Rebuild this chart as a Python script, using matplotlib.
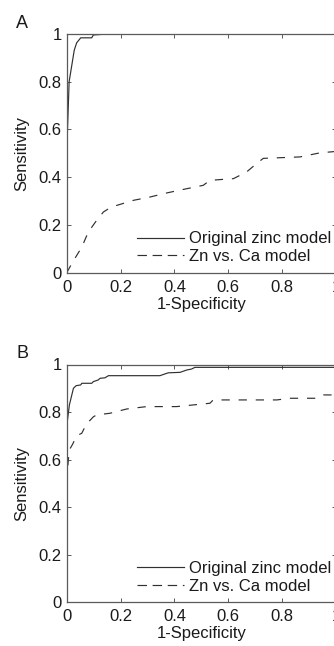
import matplotlib
matplotlib.use("Agg")
import matplotlib.pyplot as plt

plt.rcParams['font.family'] = ['Liberation Sans', 'DejaVu Sans']

# ---- data ----
ticks = [0, 0.2, 0.4, 0.6, 0.8, 1]
tick_labels = ['0', '0.2', '0.4', '0.6', '0.8', '1']

a_orig_x = [0, 0, 0.003, 0.009, 0.028, 0.037, 0.052, 0.093, 0.099, 0.153, 1.0]
a_orig_y = [0, 0.45, 0.60, 0.80, 0.932, 0.963, 0.984, 0.984, 0.996, 1.0, 1.0]

a_znca_x = [0, 0.025, 0.056, 0.08, 0.111, 0.136, 0.161, 0.186, 0.247, 0.309, 0.371,
            0.446, 0.507, 0.532, 0.619, 0.668, 0.706, 0.73, 0.866, 0.94, 1.0]
a_znca_y = [0, 0.05, 0.107, 0.17, 0.219, 0.254, 0.272, 0.282, 0.303, 0.317, 0.334,
            0.352, 0.366, 0.387, 0.394, 0.422, 0.458, 0.479, 0.485, 0.502, 0.508]

b_orig_x = [0, 0, 0.002, 0.01, 0.019, 0.025, 0.035, 0.052, 0.056, 0.093, 0.099, 0.117,
            0.124, 0.142, 0.155, 0.346, 0.377, 0.421, 0.446, 0.464, 0.476, 1.0]
b_orig_y = [0, 0.65, 0.759, 0.83, 0.872, 0.90, 0.911, 0.914, 0.921, 0.921, 0.928, 0.935,
            0.942, 0.944, 0.953, 0.953, 0.965, 0.967, 0.977, 0.981, 0.988, 0.988]

b_znca_x = [0, 0, 0.003, 0.006, 0.012, 0.022, 0.037, 0.056, 0.068, 0.084, 0.099, 0.111,
            0.161, 0.223, 0.297, 0.408, 0.47, 0.532, 0.544, 0.78, 0.829, 0.928, 0.953, 1.0]
b_znca_y = [0, 0.40, 0.55, 0.60, 0.645, 0.665, 0.70, 0.711, 0.738, 0.762, 0.78, 0.788,
            0.795, 0.813, 0.823, 0.823, 0.83, 0.837, 0.851, 0.851, 0.858, 0.858, 0.872, 0.872]

labels = ['Original zinc model', 'Zn vs. Ca model']

# ---- styling ----
W, H = 334, 646
fig = plt.figure(figsize=(W / 100, H / 100), dpi=100)
line_col = '#303030'
spine_col = '#5a5a5a'
text_col = '#1a1a1a'
lw = 0.85
dash = (0, (7.0, 7.5))
legend_dash = (0, (8.0, 4.8))


def make_panel(rect, ox, oy, zx, zy, letter, letter_xy):
    ax = fig.add_axes(rect)
    ax.plot(ox, oy, color=line_col, lw=lw, label=labels[0])
    ax.plot(zx, zy, color=line_col, lw=lw, linestyle=dash, label=labels[1])
    ax.set_xlim(0, 1)
    ax.set_ylim(0, 1)
    ax.set_xticks(ticks)
    ax.set_xticklabels(tick_labels)
    ax.set_yticks(ticks)
    ax.set_yticklabels(tick_labels)
    ax.tick_params(axis='both', direction='in', length=3.0, width=0.7,
                   color=spine_col, labelsize=12, labelcolor=text_col,
                   top=True, right=True)
    ax.tick_params(axis='x', pad=5.0)
    ax.tick_params(axis='y', pad=3.5)
    for s in ax.spines.values():
        s.set_color(spine_col)
        s.set_linewidth(0.9)
    ax.set_xlabel('1-Specificity', fontsize=12, color=text_col, labelpad=1.5)
    ax.set_ylabel('Sensitivity', fontsize=12, color=text_col)
    ax.yaxis.set_label_coords(-0.14, 0.5)
    leg = ax.legend(loc='center left', bbox_to_anchor=(0.261, 0.105), frameon=False,
                    fontsize=12, handlelength=2.85, handletextpad=0.3,
                    labelspacing=0.15, borderpad=0, borderaxespad=0)
    for t in leg.get_texts():
        t.set_color(text_col)
    leg.get_lines()[1].set_linestyle(legend_dash)
    fig.text(letter_xy[0] / W, 1 - letter_xy[1] / H, letter, fontsize=13,
             color=text_col, ha='left', va='baseline')
    return ax


make_panel([66.7 / W, (H - 272.7) / H, 269.3 / W, 238.7 / H],
           a_orig_x, a_orig_y, a_znca_x, a_znca_y, 'A', (16, 27.5))
make_panel([66.7 / W, (H - 602.3) / H, 269.3 / W, 237.8 / H],
           b_orig_x, b_orig_y, b_znca_x, b_znca_y, 'B', (16.5, 358.5))

fig.savefig('out.png', dpi=100, facecolor='white')
